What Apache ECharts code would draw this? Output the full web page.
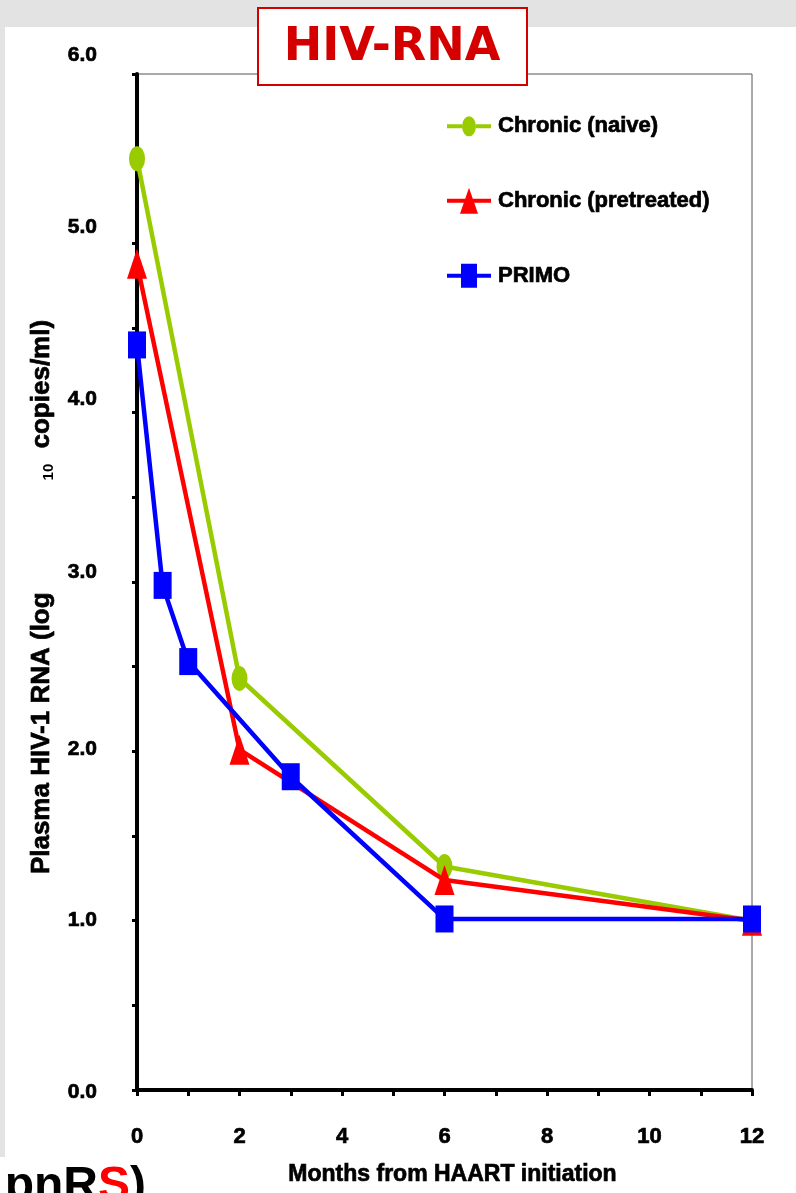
<!DOCTYPE html>
<html>
<head>
<meta charset="utf-8">
<script src="https://cdn.jsdelivr.net/npm/echarts@6/dist/echarts.min.js"></script>
<style>
html,body{margin:0;padding:0;background:#fff;}
#chart{width:796px;height:1193px;}
</style>
</head>
<body>
<div id="chart"></div>
<script>
// ---- data ----
const seriesNames = ['Chronic (naive)', 'Chronic (pretreated)', 'PRIMO'];
const monthsNaive = [0, 2, 6, 12];
const naive = [5.50, 2.43, 1.32, 1.00];
const monthsPretreated = [0, 2, 6, 12];
const pretreated = [4.88, 2.01, 1.24, 1.00];
const monthsPrimo = [0, 0.5, 1, 3, 6, 12];
const primo = [4.40, 2.98, 2.53, 1.85, 1.01, 1.01];
const yTicks = [0, 1, 2, 3, 4, 5, 6];
const xTicks = [0, 2, 4, 6, 8, 10, 12];
const titleText = 'HIV-RNA';
const xName = 'Months from HAART initiation';
const yNameMain = 'Plasma HIV-1 RNA (log';
const yNameSub = '10';
const yNameEnd = ' copies/ml)';

// ---- styling ----
const FONT = "'Liberation Sans', Arial, sans-serif";
const BOLDER = { textBorderColor: '#000', textBorderWidth: 0.7 };
// upward nudge (px) of each y tick label, as in the reference picture
const yLabelNudge = { 0: -2, 1: 0, 2: 2, 3: 10, 4: 13, 5: 16, 6: 19 };
const legendIcons = [
  'path://M0,11H15V15H0Z M29,11H44V15H29Z M15,13A7,10 0 1,1 29,13A7,10 0 1,1 15,13Z',
  'path://M0,11H18V15H0Z M26,11H44V15H26Z M22,0L31,26L13,26Z',
  'path://M0,11H14V15H0Z M30,11H44V15H30Z M14,1H30V25H14Z'
];
const pairs = (xs, ys) => xs.map((x, i) => [x, ys[i]]);

const yRich = {};
yTicks.forEach(v => {
  const n = yLabelNudge[v];
  yRich['o' + v] = Object.assign({
    fontFamily: FONT, fontWeight: 'bold', fontSize: 21, color: '#000',
    padding: n >= 0 ? [0, 0, 2 * n, 0] : [-2 * n, 0, 0, 0]
  }, BOLDER);
});

const chart = echarts.init(document.getElementById('chart'));
const option = {
  backgroundColor: '#ffffff',
  animation: false,
  grid: {
    left: 137, right: 44, top: 74, bottom: 103,
    containLabel: false, outerBoundsMode: 'none',
    show: true, borderColor: '#555', borderWidth: 1, backgroundColor: 'transparent'
  },
  legend: {
    orient: 'vertical', left: 447, top: 115, padding: 0,
    itemWidth: 44, itemHeight: 26, itemGap: 50,
    symbolKeepAspect: true,
    data: seriesNames.map((n, i) => ({ name: n, icon: legendIcons[i] })),
    textStyle: Object.assign({ fontFamily: FONT, fontWeight: 'bold', fontSize: 22, color: '#000', padding: [0, 0, 0, 2] }, BOLDER)
  },
  xAxis: {
    type: 'value', min: 0, max: 12, interval: 2,
    axisLine: { lineStyle: { color: '#000', width: 4 } },
    axisTick: { show: true, length: 6, lineStyle: { color: '#000', width: 3 } },
    minorTick: { show: true, splitNumber: 2, length: 6, lineStyle: { color: '#000', width: 3 } },
    splitLine: { show: false },
    axisLabel: Object.assign({
      margin: 36, color: '#000', fontFamily: FONT, fontWeight: 'bold', fontSize: 22,
      formatter: v => xTicks.includes(v) ? String(v) : ''
    }, BOLDER),
    name: xName, nameLocation: 'middle', nameGap: 73,
    nameTextStyle: Object.assign({ fontFamily: FONT, fontWeight: 'bold', fontSize: 23, color: '#000', padding: [0, 0, 0, 16] }, BOLDER)
  },
  yAxis: {
    type: 'value', min: 0, max: 6, interval: 1,
    axisLine: { show: true, lineStyle: { color: '#000', width: 4 } },
    axisTick: { show: true, length: 5, lineStyle: { color: '#000', width: 3 } },
    minorTick: { show: true, splitNumber: 2, length: 5, lineStyle: { color: '#000', width: 3 } },
    splitLine: { show: false },
    axisLabel: {
      margin: 40,
      formatter: v => '{o' + v + '|' + v.toFixed(1) + '}',
      rich: yRich
    },
    name: '{a|' + yNameMain + '}{s|' + yNameSub + '}{a|' + yNameEnd + '}',
    nameLocation: 'middle', nameRotate: 90, nameGap: 68,
    nameTextStyle: {
      padding: [0, 30, 0, 0],
      rich: {
        a: Object.assign({ fontFamily: FONT, fontWeight: 'bold', fontSize: 26, color: '#000', lineHeight: 30 }, BOLDER),
        s: { fontFamily: FONT, fontWeight: 'bold', fontSize: 15, color: '#000', lineHeight: 30,
             verticalAlign: 'bottom', padding: [0, 8, 0, 112] }
      }
    }
  },
  series: [
    {
      name: seriesNames[0], type: 'line', clip: false, z: 2,
      data: pairs(monthsNaive, naive),
      symbol: 'circle', symbolSize: [16, 25],
      lineStyle: { color: '#99cc00', width: 4.5 },
      itemStyle: { color: '#99cc00' }
    },
    {
      name: seriesNames[1], type: 'line', clip: false, z: 3,
      data: pairs(monthsPretreated, pretreated),
      symbol: 'triangle', symbolSize: [20, 30],
      lineStyle: { color: '#ff0000', width: 4.5 },
      itemStyle: { color: '#ff0000' }
    },
    {
      name: seriesNames[2], type: 'line', clip: false, z: 4,
      data: pairs(monthsPrimo, primo),
      symbol: 'rect', symbolSize: [18, 27],
      lineStyle: { color: '#0000ff', width: 4.5 },
      itemStyle: { color: '#0000ff' }
    }
  ],
  graphic: [
    { type: 'rect', z: 100, shape: { x: 0, y: 0, width: 796, height: 27 }, style: { fill: '#e3e3e3' } },
    { type: 'rect', z: 100, shape: { x: 0, y: 27, width: 5, height: 1130 }, style: { fill: '#e3e3e3' } },
    { type: 'rect', z: 101, shape: { x: 258, y: 8, width: 269, height: 77 }, style: { fill: '#fff', stroke: '#d40000', lineWidth: 2 } },
    { type: 'text', z: 102, x: 392, y: 48,
      style: { text: titleText, fill: '#d40000', font: "bold 46px 'DejaVu Sans', sans-serif", textAlign: 'center', textVerticalAlign: 'middle' } },
    { type: 'text', z: 102, x: 146, y: 1163,
      style: { text: '{k|pnR}{r|S}{k|)}', textAlign: 'right', textVerticalAlign: 'top',
        rich: {
          k: { fontFamily: FONT, fontWeight: 'bold', fontSize: 48, fill: '#000' },
          r: { fontFamily: FONT, fontWeight: 'bold', fontSize: 48, fill: '#ff0000' }
        } } }
  ]
};
chart.setOption(option);
</script>
</body>
</html>
